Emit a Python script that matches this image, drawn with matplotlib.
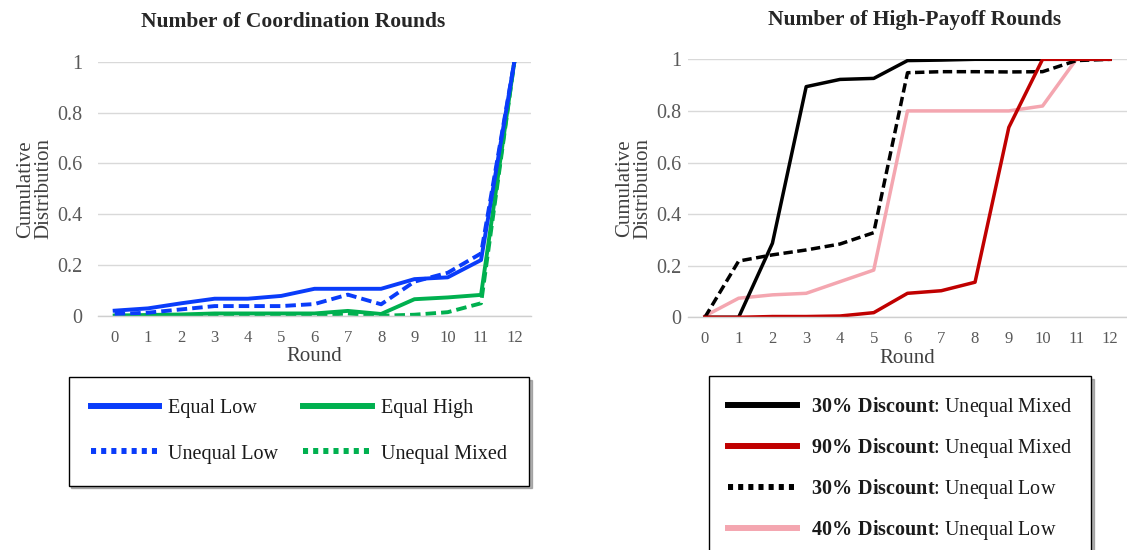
import matplotlib
matplotlib.use('Agg')
import matplotlib.pyplot as plt
from matplotlib.lines import Line2D

plt.rcParams['font.family'] = ['Liberation Serif', 'DejaVu Serif']
plt.rcParams['mathtext.fontset'] = 'custom'
plt.rcParams['mathtext.rm'] = 'Liberation Serif'
plt.rcParams['mathtext.bf'] = 'Liberation Serif:bold'

rounds = list(range(13))
round_labels = [str(r) for r in rounds]
y_ticks = [0, 0.2, 0.4, 0.6, 0.8, 1]
y_labels = ['0', '0.2', '0.4', '0.6', '0.8', '1']

# left: number of coordination rounds
equal_low = [0.021, 0.03, 0.05, 0.068, 0.068, 0.079, 0.107, 0.107, 0.107, 0.145, 0.152, 0.22, 1.0]
unequal_low = [0.008, 0.013, 0.026, 0.039, 0.039, 0.039, 0.047, 0.084, 0.046, 0.135, 0.17, 0.246, 1.0]
equal_high = [0.002, 0.004, 0.006, 0.01, 0.01, 0.01, 0.01, 0.02, 0.008, 0.066, 0.073, 0.083, 1.0]
unequal_mixed = [0.0, 0.0, 0.0, 0.0, 0.0, 0.0, 0.002, 0.01, 0.001, 0.005, 0.015, 0.05, 1.0]

# right: number of high-payoff rounds
d30_mixed = [0.0, 0.0, 0.287, 0.894, 0.922, 0.926, 0.995, 0.997, 1.0, 1.0, 1.0, 1.0, 1.0]
d90_mixed = [0.0, 0.0, 0.003, 0.003, 0.005, 0.018, 0.093, 0.103, 0.136, 0.736, 1.0, 1.0, 1.0]
d30_low = [0.0, 0.218, 0.242, 0.261, 0.284, 0.328, 0.948, 0.952, 0.952, 0.951, 0.952, 0.995, 1.0]
d40_low = [0.005, 0.074, 0.087, 0.093, 0.138, 0.183, 0.8, 0.8, 0.8, 0.8, 0.819, 1.0, 1.0]

BLUE = '#0a3cfa'
GREEN = '#00b04f'
RED = '#c00000'
PINK = '#f4a6b0'
GRID = '#d9d9d9'
TICK = '#595959'
LABEL = '#404040'

fig = plt.figure(figsize=(11.27, 5.5), dpi=100)
ax1 = fig.add_axes([98 / 1127, 1 - 316 / 550, 433 / 1127, 254.3 / 550])
ax2 = fig.add_axes([688 / 1127, 1 - 317.3 / 550, 439 / 1127, 258 / 550])

dash = (2.7, 1.3)
ax1.plot(rounds, unequal_mixed, color=GREEN, lw=2.8, dashes=dash)
ax1.plot(rounds, equal_high, color=GREEN, lw=2.8)
ax1.plot(rounds, unequal_low, color=BLUE, lw=2.8, dashes=dash)
ax1.plot(rounds, equal_low, color=BLUE, lw=2.8)

ax2.plot(rounds, d40_low, color=PINK, lw=2.5)
ax2.plot(rounds, d30_low, color='black', lw=2.5, dashes=dash)
ax2.plot(rounds, d30_mixed, color='black', lw=2.5)
ax2.plot(rounds, d90_mixed, color=RED, lw=2.5)

for ax, title, pad, lx in [(ax1, 'Number of Coordination Rounds', 11, -0.104),
                           (ax2, 'Number of High-Payoff Rounds', 4.5, -0.082)]:
    ax.set_xlim(-0.5, 12.5)
    ax.set_ylim(0, 1)
    ax.set_xticks(rounds)
    ax.set_xticklabels(round_labels, fontsize=12, color=TICK)
    ax.set_yticks(y_ticks)
    ax.set_yticklabels(y_labels, fontsize=14.5, color=TICK)
    ax.tick_params(axis='x', length=0, pad=10)
    ax.tick_params(axis='y', length=0, pad=pad)
    ax.grid(axis='y', color=GRID, lw=1)
    ax.set_axisbelow(True)
    for s in ['top', 'right', 'left']:
        ax.spines[s].set_visible(False)
    ax.spines['bottom'].set_color('#cfcfcf')
    ax.spines['bottom'].set_linewidth(1)
    ax.set_xlabel('Round', fontsize=15, color=LABEL, labelpad=1)
    ax.set_ylabel('Cumulative\nDistribution', fontsize=15, color=LABEL, linespacing=0.95)
    ax.yaxis.set_label_coords(lx, 0.5)
    ax.set_title(title, fontsize=15.5, fontweight='bold', color='#262626', pad=25)

ax1.title.set_x(0.45)
ax2.title.set_x(0.515)

dot = (0.85, 0.85)
h_left = [Line2D([], [], color=BLUE, lw=4.3),
          Line2D([], [], color=BLUE, lw=4.3, dashes=dot),
          Line2D([], [], color=GREEN, lw=4.3),
          Line2D([], [], color=GREEN, lw=4.3, dashes=dot)]
l_left = ['Equal Low', 'Unequal Low', 'Equal High', 'Unequal Mixed']

h_right = [Line2D([], [], color='black', lw=4.3),
           Line2D([], [], color=RED, lw=4.3),
           Line2D([], [], color='black', lw=4.3, dashes=dot),
           Line2D([], [], color=PINK, lw=4.3)]
l_right = [r'$\mathbf{30\%\ Discount}$: Unequal Mixed',
           r'$\mathbf{90\%\ Discount}$: Unequal Mixed',
           r'$\mathbf{30\%\ Discount}$: Unequal Low',
           r'$\mathbf{40\%\ Discount}$: Unequal Low']

shadow = {'ox': 2, 'oy': -2, 'color': '#808080', 'alpha': 0.6}
leg1 = fig.legend(h_left, l_left, ncol=2, loc='upper left',
                  bbox_to_anchor=(68.6 / 1127, 1 - 377 / 550), borderaxespad=0,
                  fontsize=14.5, handlelength=3.4, handletextpad=0.45,
                  columnspacing=1.25, labelspacing=1.3, borderpad=1.1,
                  frameon=True, fancybox=False, edgecolor='black',
                  shadow=shadow, labelcolor='#1a1a1a')
leg1.get_frame().set_linewidth(1)

leg2 = fig.legend(h_right, l_right, ncol=1, loc='upper left',
                  bbox_to_anchor=(709 / 1127, 1 - 376 / 550), borderaxespad=0,
                  fontsize=14.5, handlelength=3.4, handletextpad=0.7,
                  labelspacing=0.85, borderpad=0.95, frameon=True, fancybox=False,
                  edgecolor='black', shadow=shadow, labelcolor='#1a1a1a')
leg2.get_frame().set_linewidth(1)

fig.savefig('out.png', dpi=100)
